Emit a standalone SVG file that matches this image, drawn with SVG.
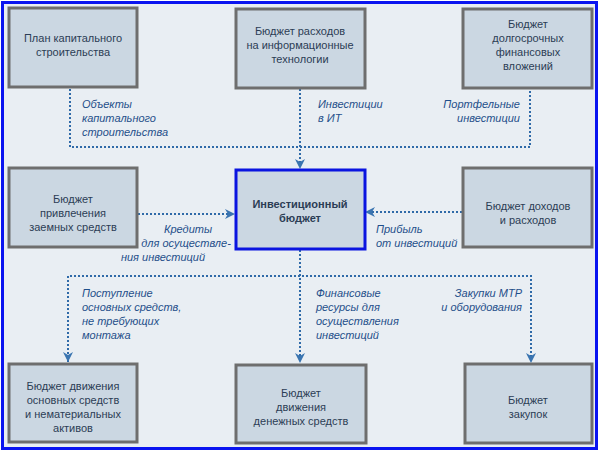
<svg xmlns="http://www.w3.org/2000/svg" width="600" height="452" viewBox="0 0 600 452">
<defs>
<style>
.b{fill:#cbd7e2;stroke:#6e6e6e;stroke-width:3}
.c{fill:#cbd7e2;stroke:#0a14e0;stroke-width:3}
.t{font-family:"Liberation Sans",Arial,sans-serif;font-size:11px;fill:#2b3d55;text-anchor:middle}
.tb{font-weight:bold}
.l{font-family:"Liberation Sans",Arial,sans-serif;font-size:11px;font-style:italic;fill:#1f4e8a}
.m{text-anchor:middle}
.k{fill:none;stroke:#2f6aa8;stroke-width:2;stroke-dasharray:2 2}
</style>
<marker id="a" viewBox="0 0 10 10" refX="9" refY="5" markerWidth="5" markerHeight="5" orient="auto"><path d="M0,0L10,5L0,10L3,5z" fill="#3a74b0"/></marker>
</defs>
<rect x="0" y="0" width="600" height="452" fill="#fff"/>
<rect x="2.5" y="2.5" width="594" height="446" fill="#e9eef3" stroke="#0a14f0" stroke-width="3"/>
<g id="connectors">
<path class="k" d="M70,89V147H530V89"/>
<path class="k" d="M300,89V168" marker-end="url(#a)"/>
<path class="k" d="M138,214H234" marker-end="url(#a)"/>
<path class="k" d="M462,212H366" marker-end="url(#a)"/>
<path class="k" d="M300,250V362" marker-end="url(#a)"/>
<path class="k" d="M68,362V276H531V362" marker-end="url(#a)"/>
<path class="k" d="M68,276V361" marker-end="url(#a)"/>
</g>
<g id="labels">
<text class="l" x="82" y="108">Объекты</text><text class="l" x="82" y="122">капитального</text><text class="l" x="82" y="136">строительства</text>
<text class="l" x="318" y="108">Инвестиции</text><text class="l" x="318" y="122">в ИТ</text>
<text class="l" x="520" y="108" text-anchor="end">Портфельные</text><text class="l" x="520" y="122" text-anchor="end">инвестиции</text>
<text class="l m" x="188" y="233">Кредиты</text><text class="l m" x="186" y="247">для осуществле-</text><text class="l m" x="163" y="261">ния инвестиций</text>
<text class="l" x="376" y="233">Прибыль</text><text class="l" x="376" y="247">от инвестиций</text>
<text class="l" x="82" y="297">Поступление</text><text class="l" x="82" y="311">основных средств,</text><text class="l" x="82" y="325">не требующих</text><text class="l" x="82" y="339">монтажа</text>
<text class="l" x="316" y="297">Финансовые</text><text class="l" x="316" y="311">ресурсы для</text><text class="l" x="316" y="325">осуществления</text><text class="l" x="316" y="339">инвестиций</text>
<text class="l" x="522" y="297" text-anchor="end">Закупки МТР</text><text class="l" x="522" y="311" text-anchor="end">и оборудования</text>
</g>
<g id="n1"><rect class="b" x="9" y="8" width="128" height="79"/><text class="t" x="73" y="42">План капитального</text><text class="t" x="73" y="56">строительства</text></g>
<g id="n2"><rect class="b" x="236" y="9" width="129" height="79"/><text class="t" x="300" y="35">Бюджет расходов</text><text class="t" x="300" y="49">на информационные</text><text class="t" x="300" y="63">технологии</text></g>
<g id="n3"><rect class="b" x="463" y="9" width="129" height="79"/><text class="t" x="528" y="28">Бюджет</text><text class="t" x="528" y="42">долгосрочных</text><text class="t" x="528" y="56">финансовых</text><text class="t" x="528" y="70">вложений</text></g>
<g id="n4"><rect class="b" x="9" y="168" width="128" height="79"/><text class="t" x="73" y="203">Бюджет</text><text class="t" x="73" y="217">привлечения</text><text class="t" x="73" y="231">заемных средств</text></g>
<g id="n5"><rect class="c" x="236" y="170" width="129" height="79"/><text class="t tb" x="300" y="208">Инвестиционный</text><text class="t tb" x="300" y="222">бюджет</text></g>
<g id="n6"><rect class="b" x="463" y="168" width="129" height="79"/><text class="t" x="528" y="210">Бюджет доходов</text><text class="t" x="528" y="224">и расходов</text></g>
<g id="n7"><rect class="b" x="9" y="364" width="128" height="78"/><text class="t" x="73" y="390">Бюджет движения</text><text class="t" x="73" y="404">основных средств</text><text class="t" x="73" y="418">и нематериальных</text><text class="t" x="73" y="432">активов</text></g>
<g id="n8"><rect class="b" x="236" y="365" width="130" height="78"/><text class="t" x="301" y="397">Бюджет</text><text class="t" x="301" y="411">движения</text><text class="t" x="301" y="425">денежных средств</text></g>
<g id="n9"><rect class="b" x="465" y="364" width="127" height="79"/><text class="t" x="528" y="404">Бюджет</text><text class="t" x="528" y="418">закупок</text></g>
</svg>
